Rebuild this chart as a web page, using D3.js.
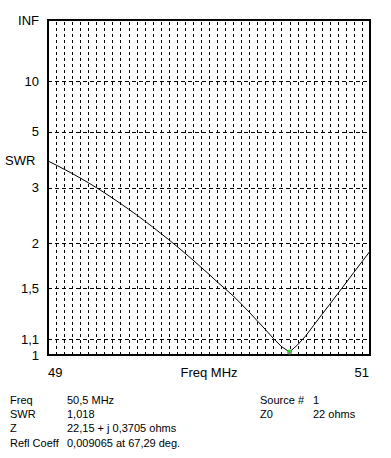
<!DOCTYPE html>
<html>
<head>
<meta charset="utf-8">
<script src="https://cdn.jsdelivr.net/npm/d3@7"></script>
<style>
  body { margin: 0; background: #fff; }
  svg { display: block; font-family: "Liberation Sans", Arial, sans-serif; }
</style>
</head>
<body>
<div id="plot-container"></div>
<script>
// sweep points
var freqMHz = [49.00, 49.05, 49.10, 49.15, 49.20, 49.25, 49.30, 49.35, 49.40, 49.45,
               49.50, 49.55, 49.60, 49.65, 49.70, 49.75, 49.80, 49.85, 49.90, 49.95,
               50.00, 50.05, 50.10, 50.15, 50.20, 50.25, 50.30, 50.35, 50.40, 50.45,
               50.50, 50.55, 50.60, 50.65, 50.70, 50.75, 50.80, 50.85, 50.90, 50.95, 51.00];
var swrValues = [3.752, 3.621, 3.490, 3.365, 3.241, 3.118, 2.998, 2.880, 2.764, 2.651,
                 2.543, 2.438, 2.335, 2.237, 2.141, 2.050, 1.961, 1.874, 1.792, 1.711,
                 1.635, 1.560, 1.493, 1.429, 1.360, 1.293, 1.227, 1.165, 1.104, 1.052,
                 1.018, 1.062, 1.120, 1.194, 1.273, 1.357, 1.449, 1.547, 1.655, 1.771, 1.898];

var swrTicks = [Infinity, 10, 5, 3, 2, 1.5, 1.1, 1];
var swrTickLabels = ["INF", "10", "5", "3", "2", "1,5", "1,1", "1"];
var freqLabels = ["49", "51"];
var freqDomain = [49, 51];
var freqGridStep = 0.05;

var marker = { freq: 50.5, swr: 1.018 };

var infoLeftLabels = ["Freq", "SWR", "Z", "Refl Coeff"];
var infoLeftValues = ["50,5 MHz", "1,018", "22,15 + j 0,3705 ohms", "0,009065 at 67,29 deg."];
var infoRightLabels = ["Source #", "Z0"];
var infoRightValues = ["1", "22 ohms"];

var W = 391, H = 458;
var plotLeft = 48, plotRight = 370, plotTop = 20, plotBottom = 355;

var svg = d3.select("#plot-container").append("svg")
    .attr("width", W)
    .attr("height", H);

var x = d3.scaleLinear().domain(freqDomain).range([plotLeft, plotRight]);
// SWR plotted linear in reflection coefficient
var rhoScale = d3.scaleLinear().domain([0, 1]).range([plotBottom, plotTop]);
function toRho(s) { return s === Infinity ? 1 : (s - 1) / (s + 1); }
function y(s) { return rhoScale(toRho(s)); }

// vertical grid
var nGrid = Math.round((freqDomain[1] - freqDomain[0]) / freqGridStep);
var gridFreqs = d3.range(1, nGrid).map(function (i) { return freqDomain[0] + i * freqGridStep; });
svg.append("g").selectAll("line")
    .data(gridFreqs)
    .enter().append("line")
    .attr("x1", function (d) { return Math.round(x(d)) + 0.5; })
    .attr("x2", function (d) { return Math.round(x(d)) + 0.5; })
    .attr("y1", plotTop + 2)
    .attr("y2", plotBottom)
    .attr("stroke", "#000")
    .attr("stroke-width", 1)
    .attr("stroke-dasharray", "3,3")
    .attr("shape-rendering", "crispEdges");

// horizontal grid
svg.append("g").selectAll("line")
    .data(swrTicks.filter(function (s) { return s !== Infinity && s !== 1; }))
    .enter().append("line")
    .attr("x1", plotLeft)
    .attr("x2", plotRight)
    .attr("y1", function (d) { return Math.round(y(d)) + 0.5; })
    .attr("y2", function (d) { return Math.round(y(d)) + 0.5; })
    .attr("stroke", "#000")
    .attr("stroke-width", 1)
    .attr("stroke-dasharray", "4,3")
    .attr("shape-rendering", "crispEdges");

// frame
svg.append("rect")
    .attr("x", plotLeft)
    .attr("y", plotTop)
    .attr("width", plotRight - plotLeft)
    .attr("height", plotBottom - plotTop)
    .attr("fill", "none")
    .attr("stroke", "#000")
    .attr("stroke-width", 2)
    .attr("shape-rendering", "crispEdges");

// y labels
var yAxis = d3.axisLeft(rhoScale)
    .tickValues(swrTicks.map(toRho))
    .tickFormat(function (d, i) { return swrTickLabels[i]; })
    .tickSize(0)
    .tickPadding(9);
var gy = svg.append("g").attr("transform", "translate(" + plotLeft + ",0)").call(yAxis);
gy.select(".domain").remove();
gy.selectAll("text")
    .attr("font-size", 13)
    .attr("font-family", "Liberation Sans, Arial, sans-serif")
    .attr("fill", "#000");

svg.append("text")
    .attr("x", 5)
    .attr("y", 165)
    .attr("font-size", 13)
    .text("SWR");

// x labels
svg.append("text")
    .attr("x", x(freqDomain[0]))
    .attr("y", 377)
    .attr("font-size", 13)
    .text(freqLabels[0]);
svg.append("text")
    .attr("x", x(freqDomain[1]) - 1)
    .attr("y", 377)
    .attr("text-anchor", "end")
    .attr("font-size", 13)
    .text(freqLabels[1]);
svg.append("text")
    .attr("x", (plotLeft + plotRight) / 2)
    .attr("y", 377)
    .attr("text-anchor", "middle")
    .attr("font-size", 13)
    .text("Freq MHz");

// swr curve
var line = d3.line()
    .x(function (d, i) { return x(freqMHz[i]); })
    .y(function (d) { return y(d); });
svg.append("path")
    .datum(swrValues)
    .attr("d", line)
    .attr("fill", "none")
    .attr("stroke", "#000")
    .attr("stroke-width", 1);

// marker at cursor freq
svg.append("circle")
    .attr("cx", x(marker.freq))
    .attr("cy", y(marker.swr))
    .attr("r", 2.5)
    .attr("fill", "#22dd22");
svg.append("rect")
    .attr("x", x(marker.freq) - 1)
    .attr("y", y(marker.swr))
    .attr("width", 2)
    .attr("height", 2)
    .attr("fill", "#e040e0");

// readout block
var rowY = [404, 418, 432, 447];
var info = svg.append("g").attr("font-size", 11);
info.selectAll("text.l")
    .data(infoLeftLabels)
    .enter().append("text")
    .attr("x", 10)
    .attr("y", function (d, i) { return rowY[i]; })
    .text(function (d) { return d; });
info.selectAll("text.v")
    .data(infoLeftValues)
    .enter().append("text")
    .attr("x", 67)
    .attr("y", function (d, i) { return rowY[i]; })
    .text(function (d) { return d; });
info.selectAll("text.rl")
    .data(infoRightLabels)
    .enter().append("text")
    .attr("x", 260)
    .attr("y", function (d, i) { return rowY[i]; })
    .text(function (d) { return d; });
info.selectAll("text.rv")
    .data(infoRightValues)
    .enter().append("text")
    .attr("x", 313)
    .attr("y", function (d, i) { return rowY[i]; })
    .text(function (d) { return d; });
</script>
</body>
</html>
